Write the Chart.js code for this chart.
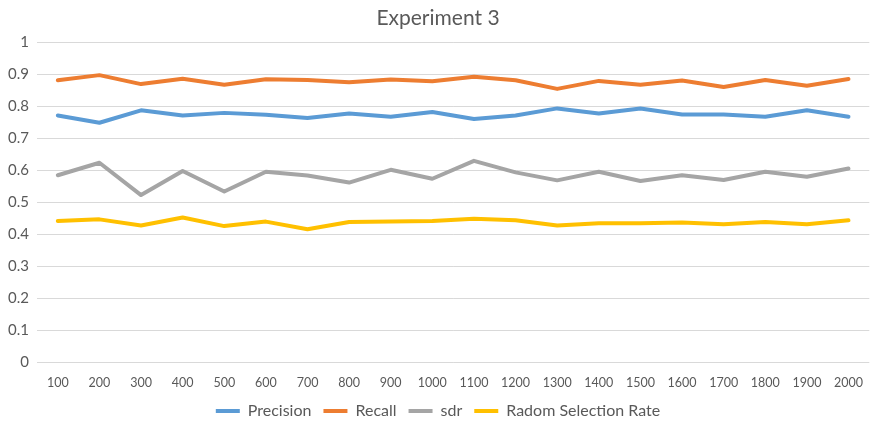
<!DOCTYPE html>
<html>
<head>
<meta charset="utf-8">
<script src="https://cdn.jsdelivr.net/npm/chart.js@4/dist/chart.umd.min.js"></script>
<style>
  html, body { margin: 0; padding: 0; background: #ffffff; overflow: hidden; }
  #wrap { position: relative; width: 876px; height: 429px; }
</style>
</head>
<body>
<div id="wrap"><canvas id="chart"></canvas></div>
<script>
// Sample sizes along the x axis
const categories = ['100', '200', '300', '400', '500', '600', '700', '800', '900', '1000',
  '1100', '1200', '1300', '1400', '1500', '1600', '1700', '1800', '1900', '2000'];

const precision = [0.771, 0.748, 0.787, 0.771, 0.779, 0.773, 0.763, 0.777, 0.767, 0.782,
  0.760, 0.771, 0.793, 0.777, 0.793, 0.774, 0.774, 0.767, 0.787, 0.767];
const recall = [0.881, 0.897, 0.869, 0.886, 0.867, 0.884, 0.882, 0.875, 0.883, 0.878,
  0.892, 0.881, 0.854, 0.879, 0.867, 0.880, 0.860, 0.882, 0.864, 0.885];
const sdr = [0.584, 0.623, 0.522, 0.597, 0.533, 0.595, 0.583, 0.561, 0.601, 0.573,
  0.629, 0.593, 0.568, 0.595, 0.566, 0.584, 0.569, 0.595, 0.579, 0.605];
const randomRate = [0.441, 0.446, 0.427, 0.452, 0.425, 0.439, 0.415, 0.438, 0.439, 0.441,
  0.448, 0.443, 0.427, 0.434, 0.434, 0.436, 0.431, 0.438, 0.431, 0.443];

const seriesNames = ['Precision', 'Recall', 'sdr', 'Radom Selection Rate'];
const seriesColors = ['#5B9BD5', '#ED7D31', '#A5A5A5', '#FFC000'];
const seriesValues = [precision, recall, sdr, randomRate];

const textColor = '#595959';
const fontFamily = 'Lato, "Liberation Sans", sans-serif';

const datasets = seriesNames.map((name, i) => ({
  label: name,
  data: seriesValues[i],
  borderColor: seriesColors[i],
  backgroundColor: seriesColors[i],
  borderWidth: 4,
  borderJoinStyle: 'round',
  borderCapStyle: 'round',
  pointRadius: 0,
  tension: 0
}));

new Chart(document.getElementById('chart'), {
  type: 'line',
  data: { labels: categories, datasets },
  options: {
    responsive: true,
    maintainAspectRatio: false,
    animation: false,
    layout: { padding: { left: 0, right: 0, top: 0, bottom: 0 } },
    plugins: {
      title: {
        display: true,
        text: 'Experiment 3',
        color: textColor,
        font: { family: fontFamily, size: 21, weight: 'normal' },
        padding: { top: 6, bottom: 11 }
      },
      legend: {
        position: 'bottom',
        labels: {
          color: textColor,
          font: { family: fontFamily, size: 16 },
          usePointStyle: true,
          pointStyle: 'line',
          pointStyleWidth: 24,
          padding: 12
        }
      },
      tooltip: { enabled: false }
    },
    scales: {
      x: {
        offset: true,
        grid: { display: false, drawTicks: false },
        border: { display: false },
        ticks: {
          color: textColor,
          font: { family: fontFamily, size: 12.5 },
          padding: 13,
          maxRotation: 0,
          autoSkip: false
        },
        afterFit: (scale) => { scale.height = 29; }
      },
      y: {
        min: 0,
        max: 1,
        grid: { color: '#D9D9D9', lineWidth: 1, drawTicks: false },
        border: { display: false },
        ticks: {
          stepSize: 0.1,
          color: textColor,
          font: { family: fontFamily, size: 15 },
          padding: 8,
          callback: (v) => String(+Number(v).toFixed(1))
        },
        afterFit: (scale) => { scale.width = 37; }
      }
    }
  }
});
</script>
</body>
</html>
